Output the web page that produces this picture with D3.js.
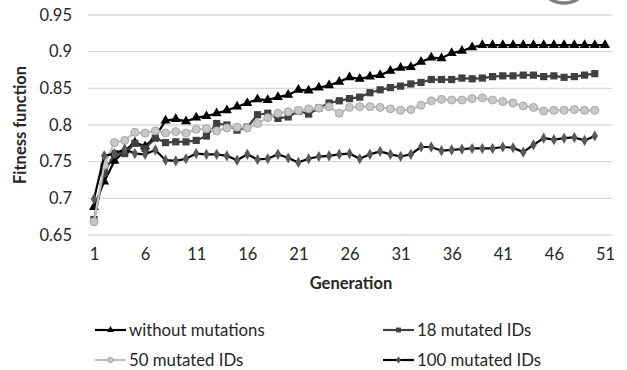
<!DOCTYPE html>
<html>
<head>
<meta charset="utf-8">
<script src="https://cdn.jsdelivr.net/npm/d3@7"></script>
<style>
  html, body { margin: 0; padding: 0; background: #fff; }
  svg { display: block; font-family: Lato, "Open Sans", sans-serif; }
</style>
</head>
<body>
<svg id="chart" width="627" height="370"></svg>
<script>
// Fitness per generation for each mutation setting
const generations = d3.range(1, 52);
const yTicks = [0.65, 0.7, 0.75, 0.8, 0.85, 0.9, 0.95];
const xTicks = [1, 6, 11, 16, 21, 26, 31, 36, 41, 46, 51];

const withoutMutations = [
  0.688, 0.723, 0.751, 0.765, 0.776, 0.771, 0.784, 0.806, 0.808, 0.805,
  0.810, 0.812, 0.816, 0.820, 0.825, 0.830, 0.835, 0.834, 0.838, 0.841,
  0.848, 0.847, 0.851, 0.854, 0.859, 0.865, 0.863, 0.866, 0.868, 0.874,
  0.878, 0.879, 0.886, 0.892, 0.891, 0.898, 0.901, 0.906, 0.909, 0.909,
  0.909, 0.909, 0.909, 0.909, 0.909, 0.909, 0.909, 0.909, 0.909, 0.909,
  0.909
];
const mutated18 = [
  0.671, 0.735, 0.761, 0.761, 0.775, 0.768, 0.782, 0.776, 0.777, 0.777,
  0.779, 0.785, 0.802, 0.800, 0.793, 0.797, 0.814, 0.816, 0.809, 0.811,
  0.819, 0.815, 0.823, 0.830, 0.833, 0.836, 0.838, 0.844, 0.848, 0.851,
  0.853, 0.856, 0.858, 0.862, 0.862, 0.862, 0.864, 0.863, 0.864, 0.866,
  0.867, 0.867, 0.868, 0.868, 0.866, 0.867, 0.865, 0.866, 0.868, 0.870
];
const mutated50 = [
  0.668, 0.745, 0.776, 0.779, 0.790, 0.789, 0.792, 0.789, 0.791, 0.789,
  0.794, 0.795, 0.792, 0.796, 0.797, 0.796, 0.802, 0.810, 0.816, 0.818,
  0.820, 0.822, 0.823, 0.825, 0.816, 0.824, 0.825, 0.825, 0.824, 0.822,
  0.820, 0.821, 0.827, 0.833, 0.835, 0.834, 0.834, 0.836, 0.837, 0.834,
  0.832, 0.830, 0.826, 0.824, 0.819, 0.820, 0.820, 0.821, 0.820, 0.820
];
const mutated100 = [
  0.699, 0.758, 0.761, 0.767, 0.761, 0.760, 0.766, 0.752, 0.751, 0.754,
  0.761, 0.760, 0.760, 0.758, 0.752, 0.760, 0.753, 0.754, 0.760, 0.755,
  0.749, 0.754, 0.757, 0.758, 0.760, 0.761, 0.754, 0.760, 0.764, 0.760,
  0.757, 0.760, 0.770, 0.770, 0.765, 0.766, 0.767, 0.768, 0.768, 0.768,
  0.770, 0.769, 0.763, 0.773, 0.782, 0.780, 0.782, 0.783, 0.779, 0.785
];

const seriesNames = ["without mutations", "18 mutated IDs", "50 mutated IDs", "100 mutated IDs"];

const series = [
  { name: seriesNames[0], values: withoutMutations, line: "#000000", fill: "#000000", stroke: "none", symbol: d3.symbolTriangle, size: 44, legendSize: 20 },
  { name: seriesNames[1], values: mutated18, line: "#404040", fill: "#404040", stroke: "none", symbol: d3.symbolSquare, size: 52, legendSize: 24 },
  { name: seriesNames[2], values: mutated50, line: "#bfbfbf", fill: "#c8c8c8", stroke: "#a6a6a6", symbol: d3.symbolCircle, size: 50, legendSize: 22 },
  { name: seriesNames[3], values: mutated100, line: "#000000", fill: "#595959", stroke: "none", symbol: d3.symbolDiamond, size: 36, legendSize: 18 }
];

const svg = d3.select("#chart");

const x = d3.scaleLinear().domain([1, 51]).range([94, 605]);
const y = d3.scaleLinear().domain([0.65, 0.95]).range([235, 15]);
const gridLeft = 88, gridRight = 612;
const labelFont = "Lato, 'Open Sans', sans-serif";

// horizontal gridlines
svg.append("g")
  .selectAll("line")
  .data(yTicks)
  .join("line")
  .attr("x1", gridLeft).attr("x2", gridRight)
  .attr("y1", d => y(d)).attr("y2", d => y(d))
  .attr("stroke", "#d9d9d9")
  .attr("stroke-width", 1.4);

// y axis labels
const yAxis = d3.axisLeft(y).tickValues(yTicks).tickSize(0).tickPadding(0)
  .tickFormat(d => String(+d.toFixed(2)));
svg.append("g")
  .attr("transform", "translate(72,0)")
  .call(yAxis)
  .call(g => g.select(".domain").remove())
  .call(g => g.selectAll("text")
    .attr("font-family", labelFont)
    .attr("font-size", 16.5).attr("fill", "#262626"));

// x axis labels
const xAxis = d3.axisBottom(x).tickValues(xTicks).tickSize(0).tickPadding(0);
svg.append("g")
  .attr("transform", "translate(0,248)")
  .call(xAxis)
  .call(g => g.select(".domain").remove())
  .call(g => g.selectAll("text")
    .attr("font-family", labelFont)
    .attr("font-size", 16.5).attr("fill", "#262626"));

// axis titles
svg.append("text")
  .attr("x", 351).attr("y", 289)
  .attr("text-anchor", "middle")
  .attr("font-size", 16.5).attr("font-weight", "bold").attr("fill", "#262626")
  .text("Generation");

svg.append("text")
  .attr("transform", "translate(26,125) rotate(-90)")
  .attr("text-anchor", "middle")
  .attr("font-size", 16.5).attr("font-weight", "bold").attr("fill", "#262626")
  .text("Fitness function");

// series lines and markers
const line = d3.line().x((d, i) => x(generations[i])).y(d => y(d));

series.forEach(s => {
  const g = svg.append("g");
  g.append("path")
    .attr("d", line(s.values))
    .attr("fill", "none")
    .attr("stroke", s.line)
    .attr("stroke-width", 2.2)
    .attr("stroke-linejoin", "round");
  g.selectAll("path.marker")
    .data(s.values)
    .join("path")
    .attr("class", "marker")
    .attr("d", d3.symbol().type(s.symbol).size(s.size))
    .attr("transform", (d, i) => `translate(${x(generations[i])},${y(d)})`)
    .attr("fill", s.fill)
    .attr("stroke", s.stroke)
    .attr("stroke-width", 1);
});

// legend
const legendPos = [[95, 330], [383, 330], [95, 360], [383, 360]];
series.forEach((s, i) => {
  const [lx, ly] = legendPos[i];
  const g = svg.append("g").attr("transform", `translate(${lx},${ly})`);
  g.append("line")
    .attr("x1", 0).attr("x2", 31).attr("y1", 0).attr("y2", 0)
    .attr("stroke", s.line).attr("stroke-width", 2.2);
  g.append("path")
    .attr("d", d3.symbol().type(s.symbol).size(s.legendSize))
    .attr("transform", "translate(15.5,0)")
    .attr("fill", s.fill).attr("stroke", s.stroke).attr("stroke-width", 1);
  g.append("text")
    .attr("x", 34).attr("y", 0).attr("dy", "0.35em")
    .attr("font-size", 16.8).attr("fill", "#262626")
    .text(s.name);
});

// partial ring clipped at the top edge
svg.append("ellipse")
  .attr("cx", 564).attr("cy", -11)
  .attr("rx", 20).attr("ry", 14)
  .attr("fill", "none")
  .attr("stroke", "#7f7f7f")
  .attr("stroke-width", 3.5);
</script>
</body>
</html>
